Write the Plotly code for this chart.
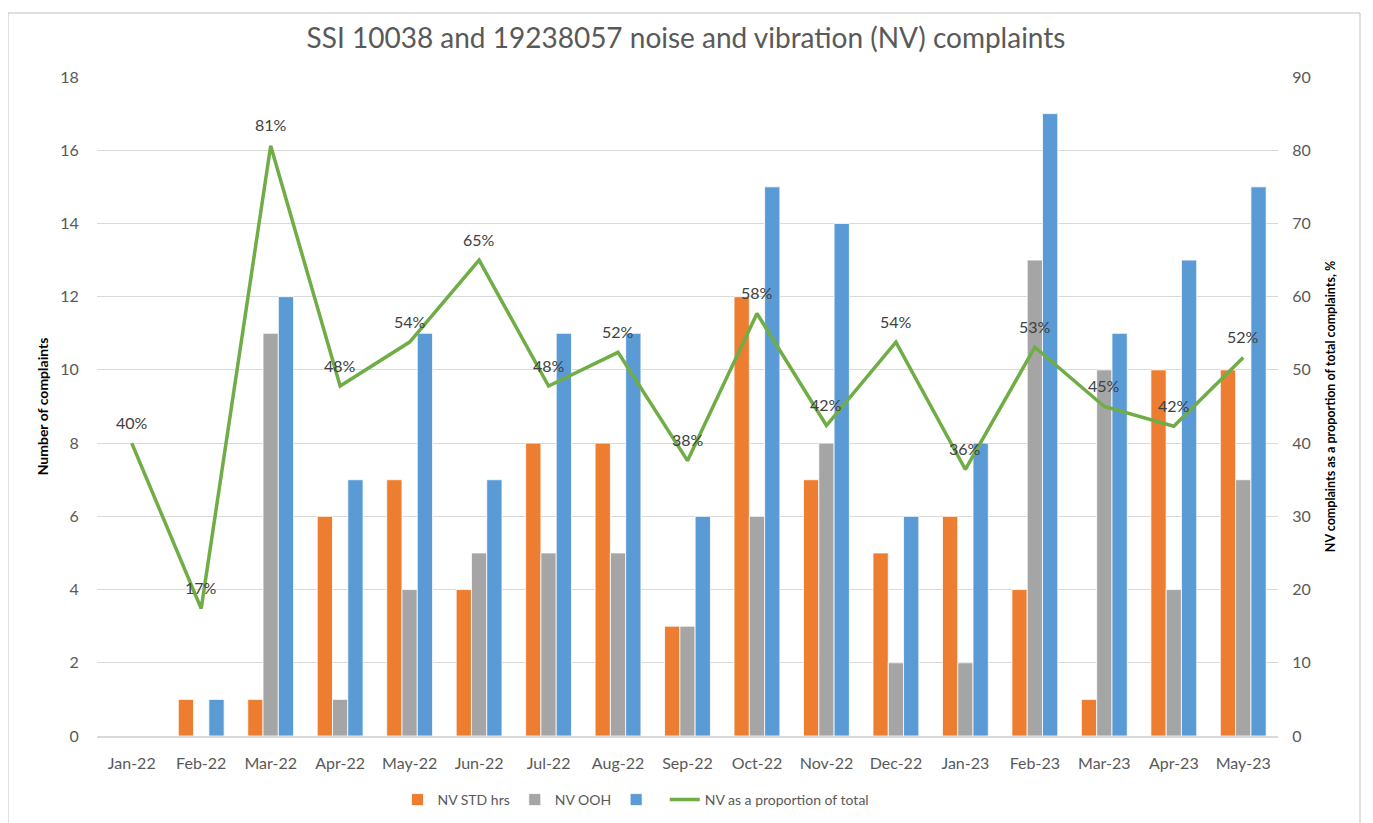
import plotly.graph_objects as go

months = ["Jan-22", "Feb-22", "Mar-22", "Apr-22", "May-22", "Jun-22", "Jul-22", "Aug-22", "Sep-22",
          "Oct-22", "Nov-22", "Dec-22", "Jan-23", "Feb-23", "Mar-23", "Apr-23", "May-23"]
nv_std = [0, 1, 1, 6, 7, 4, 8, 8, 3, 12, 7, 5, 6, 4, 1, 10, 10]
nv_ooh = [0, 0, 11, 1, 4, 5, 5, 5, 3, 6, 8, 2, 2, 13, 10, 4, 7]
nv_total = [0, 1, 12, 7, 11, 7, 11, 11, 6, 15, 14, 6, 8, 17, 11, 13, 15]
nv_pct = [40, 17.4, 80.6, 47.8, 53.8, 65, 47.8, 52.4, 37.6, 57.7, 42.4, 53.8, 36.4, 53.1, 45, 42.3, 51.7]
pct_labels = ["{:.0f}%".format(v) for v in nv_pct]

FONT = "Lato"
GREY_TXT = "#595959"

# page is rendered with an 8px body margin; compensate
OFF = 8
W, H = 1373, 823
PL, PR, PT, PB = 97, 1278, 77, 736  # desired plot area in page pixels
PW, PH = PR - PL, PB - PT

fig = go.Figure()
fig.add_trace(go.Bar(x=months, y=nv_std, name="NV STD hrs", marker=dict(color="#ED7D31", line=dict(color="white", width=0.8))))
fig.add_trace(go.Bar(x=months, y=nv_ooh, name="NV OOH", marker=dict(color="#A5A5A5", line=dict(color="white", width=0.8))))
fig.add_trace(go.Bar(x=months, y=nv_total, name=" ", marker=dict(color="#5B9BD5", line=dict(color="white", width=0.8))))
fig.add_trace(go.Scatter(x=months, y=nv_pct, name="NV as a proportion of total", yaxis="y2",
                         mode="lines", line=dict(color="#70AD47", width=3.5)))

for m, v, t in zip(months, nv_pct, pct_labels):
    fig.add_annotation(x=m, y=v, xref="x", yref="y2", text=t, showarrow=False,
                       yshift=21, font=dict(family=FONT, size=16, color="#404040"))

fig.update_layout(
    width=W, height=H,
    margin=dict(l=PL - OFF, r=W - (PR - OFF), t=PT - OFF, b=H - (PB - OFF), autoexpand=False),
    paper_bgcolor="white", plot_bgcolor="white",
    font=dict(family=FONT, color=GREY_TXT),
    title=dict(text="SSI 10038 and 19238057 noise and vibration (NV) complaints",
               x=(686 - OFF) / W, xanchor="center", y=1 - (38 - OFF) / H, yanchor="middle",
               font=dict(family=FONT, size=28, color=GREY_TXT)),
    barmode="group", bargap=0.34, bargroupgap=0,
    showlegend=True,
    legend=dict(orientation="h", x=(636 - PL) / PW, xanchor="center", y=-(800 - PB) / PH, yanchor="middle",
                font=dict(family=FONT, size=14, color=GREY_TXT), traceorder="normal"),
    xaxis=dict(showgrid=False, showline=True, linecolor="#d9d9d9", linewidth=1.5, automargin=False,
               ticks="outside", ticklen=12, tickcolor="rgba(0,0,0,0)",
               tickfont=dict(family=FONT, size=16, color=GREY_TXT)),
    yaxis=dict(range=[0, 18], dtick=2, showgrid=True, gridcolor="#d9d9d9", gridwidth=1, automargin=False,
               zeroline=False, ticks="outside", ticklen=14, tickcolor="rgba(0,0,0,0)",
               tickfont=dict(family=FONT, size=16, color=GREY_TXT),
               title=dict(text="<b>Number of complaints</b>", standoff=8,
                          font=dict(family=FONT, size=14, color="black"))),
    yaxis2=dict(range=[0, 90], dtick=10, overlaying="y", side="right", showgrid=False, automargin=False,
                zeroline=False, ticks="outside", ticklen=10, tickcolor="rgba(0,0,0,0)",
                tickfont=dict(family=FONT, size=16, color=GREY_TXT),
                title=dict(text="<b>NV complaints as a proportion of total complaints, %</b>", standoff=16,
                           font=dict(family=FONT, size=12.5, color="black"))),
)

fig.add_shape(type="rect", xref="paper", yref="paper",
              x0=(8 - PL) / PW, x1=(1360 - PL) / PW,
              y0=-0.3, y1=(PB - 13) / PH,
              line=dict(color="#bfbfbf", width=1), fillcolor="rgba(0,0,0,0)", layer="below")

fig.write_html("out.html")
